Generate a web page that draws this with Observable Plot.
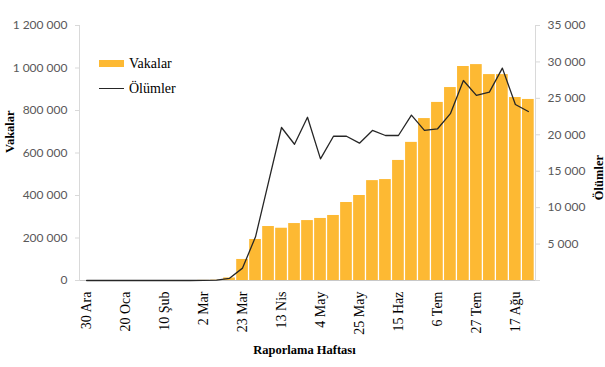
<!DOCTYPE html>
<html>
<head>
<meta charset="utf-8">
<script src="https://cdn.jsdelivr.net/npm/d3@7"></script>
<script src="https://cdn.jsdelivr.net/npm/@observablehq/plot@0.6"></script>
<style>
  html, body { margin: 0; padding: 0; background: #fff; }
  #wrap { position: relative; width: 605px; height: 367px; }
  .legend { position: absolute; left: 99px; top: 51px; font-family: "Liberation Serif", "Times New Roman", serif; font-size: 14px; color: #000; }
  .legend .row { display: flex; align-items: center; height: 25px; }
  .legend .sw { width: 25px; height: 7px; background: #fdb933; margin-right: 5px; }
  .legend .ln { width: 25px; height: 0; border-top: 1.3px solid #262626; margin-right: 5px; }
</style>
</head>
<body>
<div id="wrap"></div>
<script>
// Weekly reporting categories (week starting dates)
const weeks = ["30 Ara","6 Oca","13 Oca","20 Oca","27 Oca","3 Şub","10 Şub","17 Şub","24 Şub","2 Mar",
  "9 Mar","16 Mar","23 Mar","30 Mar","6 Nis","13 Nis","20 Nis","27 Nis","4 May","11 May",
  "18 May","25 May","1 Haz","8 Haz","15 Haz","22 Haz","29 Haz","6 Tem","13 Tem","20 Tem",
  "27 Tem","3 Ağu","10 Ağu","17 Ağu","24 Ağu"];
// Labelled weeks on the x axis
const xTickLabels = ["30 Ara","20 Oca","10 Şub","2 Mar","23 Mar","13 Nis","4 May","25 May","15 Haz","6 Tem","27 Tem","17 Ağu"];
// Cases (Vakalar), left axis
const cases = [0,0,0,0,0,0,0,0,0,500,
  1500,12000,99000,193000,254000,246000,268000,282000,292000,306000,
  367000,400000,470000,475000,565000,650000,762000,838000,908000,1007000,
  1016000,969000,969000,861000,852000];
// Deaths (Ölümler), right axis
const deaths = [0,0,0,0,0,0,0,0,0,10,
  40,300,1700,6000,13500,21000,18700,22400,16700,19800,
  19800,18850,20600,19900,19900,22700,20600,20800,22900,27450,
  25400,25850,29150,24150,23200];
const leftTicks = [0,200000,400000,600000,800000,1000000,1200000];
const rightTicks = [0,5000,10000,15000,20000,25000,30000,35000];
const leftMax = 1200000, rightMax = 35000;

const k = leftMax / rightMax;
const data = weeks.map((w, i) => ({week: w, cases: cases[i], deaths: deaths[i]}));
const fmt = v => d3.format(",")(v).replace(/,/g, " ");
const sans = "Lato, Open Sans, sans-serif";
const serif = "Liberation Serif, Times New Roman, serif";

const chart = Plot.plot({
  width: 605,
  height: 367,
  marginTop: 25,
  marginBottom: 87,
  marginLeft: 79,
  marginRight: 70,
  style: {background: "#fff", overflow: "visible"},
  x: {type: "band", domain: weeks, padding: 0.1, axis: null},
  y: {domain: [0, leftMax], axis: null},
  marks: [
    Plot.barY(data, {x: "week", y: "cases", fill: "#fdb933"}),
    Plot.ruleY([0], {stroke: "#c8c8c8"}),
    Plot.frame({anchor: "left", stroke: "#d9d9d9"}),
    Plot.frame({anchor: "right", stroke: "#d9d9d9"}),
    Plot.line(data, {x: "week", y: d => d.deaths * k, stroke: "#262626", strokeWidth: 1.3}),
    Plot.axisY(leftTicks, {anchor: "left", tickSize: 4, tickPadding: 8, stroke: "#d9d9d9",
      tickFormat: fmt, fontSize: 12, fontFamily: sans, fill: "#595959", label: null}),
    Plot.axisY(rightTicks.map(v => v * k), {anchor: "right", tickSize: 4, tickPadding: 8, stroke: "#d9d9d9",
      tickFormat: v => (v === 0 ? "" : fmt(Math.round(v / k))), fontSize: 12, fontFamily: sans, fill: "#595959", label: null}),
    Plot.axisX(xTickLabels, {anchor: "bottom", tickSize: 0, tickPadding: 11, tickRotate: -90,
      fontSize: 14, fontFamily: serif, fill: "#000", label: null}),
    Plot.text(["Vakalar"], {frameAnchor: "left", dx: -70, dy: 0, rotate: -90, fontSize: 12.5,
      fontWeight: "bold", fontFamily: serif, fill: "#000"}),
    Plot.text(["Ölümler"], {frameAnchor: "right", dx: 63, dy: 2, rotate: -90, fontSize: 12.5,
      fontWeight: "bold", fontFamily: serif, fill: "#000"}),
    Plot.text(["Raporlama Haftası"], {frameAnchor: "bottom", dy: 73, dx: -3, fontSize: 12.5,
      fontWeight: "bold", fontFamily: serif, fill: "#000"})
  ]
});

const wrap = document.getElementById("wrap");
wrap.appendChild(chart);
const legend = document.createElement("div");
legend.className = "legend";
legend.innerHTML = '<div class="row"><div class="sw"></div><span>Vakalar</span></div>' +
                   '<div class="row"><div class="ln"></div><span>Ölümler</span></div>';
wrap.appendChild(legend);
</script>
</body>
</html>
